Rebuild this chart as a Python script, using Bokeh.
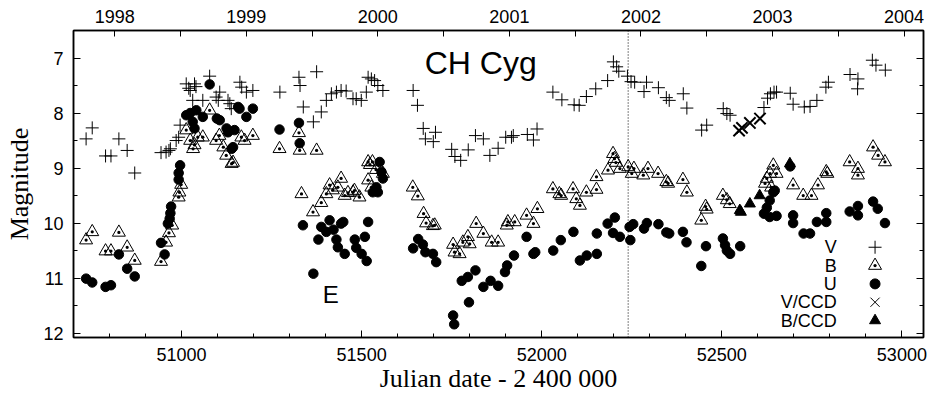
from bokeh.plotting import figure
from bokeh.models import (Range1d, LinearAxis, FixedTicker, Span, Label,
                          NumeralTickFormatter, CustomJSTickFormatter)
from bokeh.embed import file_html
from bokeh.resources import INLINE

# ---------------- data (JD - 2400000, magnitude) ----------------
V_jd = [50735, 50752, 50789, 50804, 50826, 50849, 50870,
        50943, 50957, 50965, 50969, 50985, 50992, 50996,
        51013, 51020, 51024, 51031, 51036, 51040, 51059, 51078, 51096, 51102, 51106,
        51129, 51134, 51138, 51162, 51167, 51180, 51198,
        51273, 51326, 51329, 51338, 51366, 51375, 51388, 51402, 51416, 51430, 51443,
        51457, 51476, 51485, 51499, 51513, 51518, 51527, 51536, 51545, 51559,
        51643, 51655, 51671, 51677, 51699, 51705, 51750, 51759, 51775, 51796, 51816,
        51838, 51856, 51879, 51900, 51916, 51921, 51960, 51977, 51987,
        52031, 52056, 52090, 52104, 52124, 52150, 52183, 52199, 52208, 52214, 52238,
        52248, 52258, 52284, 52291, 52324, 52346, 52354, 52393, 52403, 52444, 52458,
        52504, 52514, 52523, 52617, 52627, 52635, 52645, 52652, 52690, 52698, 52729,
        52745, 52764, 52789, 52796, 52856, 52878, 52877, 52918, 52928, 52954]
V_mag = [8.47, 8.27, 8.78, 8.78, 8.47, 8.68, 9.09,
         8.72, 8.71, 8.68, 8.65, 8.50, 8.44, 8.22,
         7.47, 7.55, 7.59, 7.77, 7.47, 7.52, 7.77, 7.33, 7.71, 7.77, 7.62,
         7.77, 7.83, 7.92, 7.44, 7.53, 7.62, 7.59,
         7.62, 7.35, 7.50, 7.89, 8.16, 7.25, 7.98, 7.77, 7.65, 7.62, 7.59,
         7.60, 7.74, 7.74, 7.77, 7.62, 7.35, 7.38, 7.41, 7.50, 7.59,
         7.59, 7.86, 8.28, 8.47, 8.52, 8.35, 8.66, 8.79, 8.86, 8.67, 8.41,
         8.47, 8.77, 8.64, 8.44, 8.44, 8.41, 8.39, 8.49, 8.29,
         7.62, 7.76, 7.85, 7.86, 7.70, 7.56, 7.41, 7.07, 7.16, 7.24, 7.33,
         7.43, 7.44, 7.61, 7.44, 7.54, 7.72, 7.77, 7.65, 7.91, 8.31, 8.22,
         7.92, 8.01, 8.04, 7.90, 7.73, 7.65, 7.62, 7.62, 7.64, 7.84, 7.89,
         7.88, 7.77, 7.53, 7.44, 7.30, 7.38, 7.56, 7.04, 7.13, 7.22]

B_jd = [50735, 50752, 50789, 50804, 50826, 50849, 50870,
        50943, 50957, 50965, 50974, 50992, 50994, 50999,
        51013, 51024, 51032, 51036, 51045, 51059, 51078, 51096, 51105, 51116, 51124,
        51139, 51143, 51166, 51175, 51198,
        51272, 51326, 51328, 51333, 51365, 51375, 51388, 51402, 51411, 51420, 51434,
        51443, 51453, 51462, 51476, 51480, 51494, 51518, 51523, 51518, 51527, 51530,
        51540, 51559,
        51642, 51656, 51672, 51679, 51703, 51698, 51754, 51758, 51772, 51781, 51795,
        51800, 51818, 51838, 51861, 51879, 51903, 51906, 51925, 51958, 51977, 51988,
        52031, 52049, 52054, 52087, 52096, 52106, 52124, 52152, 52152, 52184, 52198,
        52202, 52206, 52217, 52240, 52250, 52256, 52282, 52295, 52323, 52346, 52351,
        52392, 52403, 52443, 52455, 52458, 52503, 52514, 52522, 52620, 52625, 52634,
        52643, 52652, 52637, 52698, 52726, 52749, 52767, 52790, 52793, 52855, 52878,
        52878, 52920, 52934, 52953]
B_mag = [10.31, 10.16, 10.51, 10.51, 10.17, 10.44, 10.68,
         10.70, 10.35, 10.18, 10.04, 9.53, 9.44, 9.30,
         8.31, 8.50, 8.65, 8.58, 8.44, 8.44, 7.95, 8.50, 8.41, 8.62, 8.77,
         8.92, 8.90, 8.44, 8.50, 8.41,
         8.65, 8.36, 8.68, 9.47, 9.80, 8.68, 9.63, 9.47, 9.31, 9.40, 9.35,
         9.19, 9.50, 9.45, 9.44, 9.41, 9.53, 8.89, 8.94, 9.22, 9.35, 8.89,
         9.03, 9.10,
         9.35, 9.51, 9.83, 10.00, 10.04, 10.05, 10.39, 10.53, 10.56, 10.35, 10.25,
         10.38, 10.01, 10.19, 10.35, 10.35, 10.04, 9.98, 9.98, 9.86, 10.01, 9.74,
         9.38, 9.47, 9.50, 9.38, 9.56, 9.68, 9.44, 9.39, 9.16, 9.04, 8.74,
         8.83, 8.90, 9.01, 8.98, 9.10, 9.01, 9.13, 9.01, 9.10, 9.25, 9.28,
         9.21, 9.44, 9.95, 9.70, 9.75, 9.50, 9.58, 9.65, 9.28, 9.19, 9.10,
         8.95, 9.10, 9.35, 9.31, 9.50, 9.50, 9.31, 9.07, 9.10, 8.89, 9.01,
         9.13, 8.62, 8.77, 8.89]

U_jd = [50735, 50752, 50789, 50804, 50826, 50849, 50870,
        50943, 50953, 50962, 50967, 50969, 50971, 50992, 50992, 50996,
        51013, 51024, 51031, 51036, 51041, 51059, 51078, 51098, 51106, 51125, 51129,
        51139, 51143, 51147, 51157, 51161, 51180, 51198,
        51272, 51326, 51328,
        51337, 51366, 51380, 51388, 51402, 51411, 51422, 51430, 51434, 51443, 51449,
        51453, 51481, 51485, 51500, 51509, 51514, 51518, 51531, 51541, 51545, 51550,
        51555, 51559,
        51643, 51657, 51670, 51677, 51698, 51707, 51754, 51757, 51778, 51795, 51798,
        51816, 51838, 51858, 51879, 51898, 51904, 51923, 51958, 51977, 51982,
        52032, 52053, 52088, 52106, 52125, 52153, 52153, 52183, 52203, 52198, 52217,
        52244, 52254, 52246, 52284, 52292, 52324, 52346, 52354, 52392, 52402, 52443,
        52456, 52503, 52509, 52514, 52523, 52551, 52617, 52625, 52633, 52643, 52647,
        52633, 52652, 52690, 52698, 52698, 52727, 52745, 52764, 52790, 52790, 52855,
        52878, 52878, 52920, 52933, 52953]
U_mag = [11.01, 11.08, 11.16, 11.13, 10.57, 10.83, 10.97,
         10.36, 10.57, 10.01, 9.92, 9.82, 9.70, 9.21, 9.09, 8.95,
         8.04, 8.00, 8.16, 8.28, 7.95, 8.07, 7.48, 8.10, 8.13, 8.28, 8.35,
         8.65, 8.62, 8.31, 7.89, 7.92, 8.07, 7.92,
         8.30, 8.18, 8.55,
         10.04, 10.92, 10.30, 10.07, 10.16, 9.95, 10.12, 10.30, 10.44, 10.01, 9.98,
         10.56, 10.30, 10.45, 10.56, 10.25, 10.69, 9.98, 9.44, 9.35, 9.44, 8.89,
         9.07, 9.19,
         10.46, 10.29, 10.39, 10.53, 10.56, 10.71, 11.68, 11.84, 11.05, 10.98, 11.44,
         10.86, 11.16, 11.05, 11.14, 10.89, 10.77, 10.59, 10.25, 10.56, 10.53,
         10.50, 10.31, 10.16, 10.68, 10.59, 10.56, 10.19, 10.01, 9.90, 10.18, 10.25,
         10.07, 10.02, 10.31, 10.10, 10.00, 10.02, 10.17, 10.19, 10.16, 10.35, 10.78,
         10.42, 10.28, 10.40, 10.50, 10.56, 10.42, 9.83, 9.72, 9.59, 9.44, 9.41,
         9.89, 9.87, 8.97, 9.86, 10.00, 10.19, 10.19, 9.98, 9.82, 9.98, 9.79,
         9.69, 9.86, 9.61, 9.74, 10.00]

VCCD_jd = [52548, 52556, 52578, 52606]
VCCD_mag = [8.32, 8.27, 8.18, 8.10]

BCCD_jd = [52550, 52553, 52578, 52605, 52689]
BCCD_mag = [9.77, 9.80, 9.65, 9.50, 8.92]

X_TICKS = [51000, 51500, 52000, 52500, 53000]
Y_TICKS = [7, 8, 9, 10, 11, 12]
YEAR_TICKS = [1998, 1999, 2000, 2001, 2002, 2003, 2004]
LEGEND_LABELS = ["V", "B", "U", "V/CCD", "B/CCD"]
MARKER_LINE = 52240
TITLE = "CH Cyg"
# ----------------------------------------------------------------

X_START, X_END = 50700, 53060
Y_BOTTOM, Y_TOP = 12.08, 6.5
JD_1998 = 50814.5
DAYS_PER_YEAR = 365.25

SANS = "Liberation Sans"
SERIF = "Liberation Serif"

p = figure(width=931, height=403, output_backend="svg", toolbar_location=None,
           x_range=Range1d(X_START, X_END), y_range=Range1d(Y_BOTTOM, Y_TOP),
           x_axis_location=None, y_axis_location=None,
           min_border_left=73, min_border_right=8, min_border_top=30,
           min_border_bottom=66)
p.grid.visible = False
p.outline_line_color = "black"
p.outline_line_width = 1.5
p.background_fill_color = "white"
p.border_fill_color = "white"


def style_axis(ax, tick_in=7, minor_in=4):
    ax.major_tick_in = tick_in
    ax.major_tick_out = 0
    ax.minor_tick_in = minor_in
    ax.minor_tick_out = 0
    ax.axis_line_color = "black"
    ax.axis_line_width = 1.5
    ax.major_tick_line_color = "black"
    ax.minor_tick_line_color = "black"
    ax.major_tick_line_width = 1
    ax.minor_tick_line_width = 1
    ax.major_label_text_font = SANS
    ax.major_label_text_font_size = "18px"
    ax.major_label_text_color = "black"
    ax.axis_label_text_font = SERIF
    ax.axis_label_text_font_size = "26px"
    ax.axis_label_text_font_style = "normal"
    ax.axis_label_text_color = "black"


x_minor = list(range(X_START, X_END + 1, 100))
y_minor = [v / 2 for v in range(13, 25)]

xb = LinearAxis(ticker=FixedTicker(ticks=X_TICKS, minor_ticks=x_minor),
                formatter=NumeralTickFormatter(format="0"),
                axis_label="Julian date - 2 400 000")
style_axis(xb)
xb.major_label_standoff = 10
xb.axis_label_standoff = 0
p.add_layout(xb, "below")

yl = LinearAxis(ticker=FixedTicker(ticks=Y_TICKS, minor_ticks=y_minor),
                formatter=NumeralTickFormatter(format="0"),
                axis_label="Magnitude")
style_axis(yl)
yl.major_label_standoff = 10
yl.axis_label_standoff = 6
p.add_layout(yl, "left")

yr = LinearAxis(ticker=FixedTicker(ticks=Y_TICKS, minor_ticks=y_minor),
                formatter=CustomJSTickFormatter(code="return ''"))
style_axis(yr)
yr.major_label_standoff = 0
yr.major_label_text_font_size = "1px"
p.add_layout(yr, "right")

year_start = 1998 + (X_START - JD_1998) / DAYS_PER_YEAR
year_end = 1998 + (X_END - JD_1998) / DAYS_PER_YEAR
p.extra_x_ranges = {"year": Range1d(year_start, year_end)}
xt = LinearAxis(x_range_name="year",
                ticker=FixedTicker(ticks=YEAR_TICKS,
                                   minor_ticks=[y + 0.5 for y in YEAR_TICKS[:-1]]),
                formatter=NumeralTickFormatter(format="0"))
style_axis(xt, tick_in=6, minor_in=6)
xt.major_label_standoff = 8
p.add_layout(xt, "above")

p.add_layout(Span(location=MARKER_LINE, dimension="height", line_color="black",
                  line_width=1, line_dash="1 2"))

# data
p.scatter(V_jd, V_mag, marker="cross", size=13, line_color="black", line_width=1)
p.scatter(B_jd, B_mag, marker="triangle_dot", size=13, line_color="black",
          fill_color=None, line_width=1)
p.scatter(U_jd, U_mag, marker="circle", size=9.5, line_color="black",
          fill_color="black")
p.scatter(VCCD_jd, VCCD_mag, marker="x", size=16, line_color="black", line_width=2)
p.scatter(BCCD_jd, BCCD_mag, marker="triangle", size=11, line_color="black",
          fill_color="black")

# annotations
p.add_layout(Label(x=51675, y=7.09, text=TITLE, text_font=SANS,
                   text_font_size="32px", text_align="left",
                   text_baseline="middle", text_color="black"))
p.add_layout(Label(x=51392, y=11.30, text="E", text_font=SANS,
                   text_font_size="24px", text_align="left",
                   text_baseline="middle", text_color="black"))

# legend (labels right-aligned, key symbols to their right)
xspan = X_END - X_START
yspan = Y_BOTTOM - Y_TOP
leg_text_x = X_START + 0.898 * xspan
leg_key_x = X_START + 0.943 * xspan
row0 = 0.706
row_step = 0.0597
leg_y = [Y_TOP + (row0 + i * row_step) * yspan for i in range(len(LEGEND_LABELS))]
for lab, yy in zip(LEGEND_LABELS, leg_y):
    p.add_layout(Label(x=leg_text_x, y=yy, text=lab, text_font=SANS,
                       text_font_size="18px", text_align="right",
                       text_baseline="middle", text_color="black"))
kx = [leg_key_x]
p.scatter(kx, [leg_y[0]], marker="cross", size=13, line_color="black", line_width=1)
p.scatter(kx, [leg_y[1]], marker="triangle_dot", size=13, line_color="black",
          fill_color=None, line_width=1)
p.scatter(kx, [leg_y[2]], marker="circle", size=10, line_color="black",
          fill_color="black")
p.scatter(kx, [leg_y[3]], marker="x", size=13, line_color="black", line_width=1)
p.scatter(kx, [leg_y[4]], marker="triangle", size=11, line_color="black",
          fill_color="black")

open("out.html", "w").write(file_html(p, INLINE))
